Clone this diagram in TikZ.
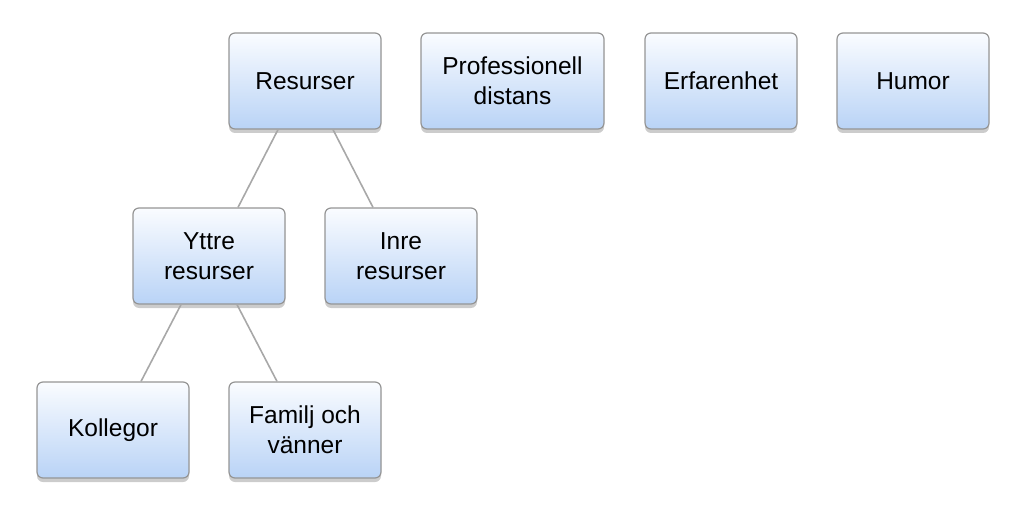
\documentclass[tikz,border=0pt]{standalone}
\usepackage{fontspec}
\setmainfont{Liberation Sans}
\usetikzlibrary{shadows,calc}
\definecolor{boxbot}{HTML}{B9D3F6}
\definecolor{boxtop}{HTML}{FAFCFF}
\definecolor{edgegray}{HTML}{959595}
\definecolor{linegray}{HTML}{A8A8A8}
\tikzset{
  box/.style={draw=edgegray, line width=1.2pt, rounded corners=6pt,
    top color=boxtop, bottom color=boxbot, minimum width=152pt, minimum height=96pt,
    inner sep=0pt, align=center, font=\fontsize{24.5}{30}\selectfont,
    drop shadow={opacity=0.4, shadow xshift=0pt, shadow yshift=-4pt}},
  conn/.style={draw=linegray, line width=1.6pt}
}
\begin{document}
\begin{tikzpicture}[x=1pt,y=-1pt]
\useasboundingbox (0,0) rectangle (1024,518);
\node[box] (res) at (305,81) {Resurser};
\node[box, minimum width=183pt] (prof) at (512.5,81) {Professionell\\distans};
\node[box] (erf) at (721,81) {Erfarenhet};
\node[box] (hum) at (913,81) {Humor};
\node[box] (ytt) at (209,256) {Yttre\\resurser};
\node[box] (inr) at (401,256) {Inre\\resurser};
\node[box] (kol) at (113,430) {Kollegor};
\node[box] (fam) at (305,430) {Familj och\\vänner};
\draw[conn] ($(res.south)+(-27,0)$) -- ($(ytt.north)+(29,0)$);
\draw[conn] ($(res.south)+(28,0)$) -- ($(inr.north)+(-28,0)$);
\draw[conn] ($(ytt.south)+(-28,0)$) -- ($(kol.north)+(28,0)$);
\draw[conn] ($(ytt.south)+(28,0)$) -- ($(fam.north)+(-28,0)$);
\end{tikzpicture}
\end{document}
